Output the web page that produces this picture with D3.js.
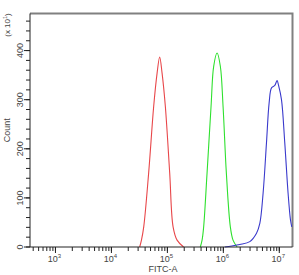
<!DOCTYPE html>
<html lang="en">
<head>
    <meta charset="UTF-8">
    <title>FITC-A histogram</title>
    <script src="https://d3js.org/d3.v7.min.js"></script>
    <style>
        body { margin: 0; background: #fff; }
        text { font-family: "Liberation Sans", Arial, sans-serif; fill: #444; }
    </style>
</head>
<body>
    <div id="chart"></div>
    <script>

        // FITC-A intensity vs count (x 10^1) for the three histograms
        const redX = [32000, 34400, 37800, 46300, 56900, 65500, 72800, 80400, 92000, 110000, 126500, 149000, 195000];
        const redY = [0, 14, 41, 151, 286, 354, 387, 354, 286, 151, 41, 14, 0];

        const greenX = [388000, 417000, 445000, 512000, 603000, 672000, 773000, 884000, 989000, 1132000, 1334000, 1489000, 1758000];
        const greenY = [0, 14, 41, 151, 286, 368, 395, 368, 286, 151, 41, 14, 0];

        const blueX = [1064000, 1413000, 1972000, 2972000, 3917000, 4487000, 5140000, 5902000, 6577000, 7261000, 8318000, 9141000, 9660000, 10940000, 12530000, 14350000, 15850000, 16710000];
        const blueY = [0, 2, 5, 11, 28, 48, 110, 212, 293, 324, 329, 339, 330, 300, 212, 110, 55, 41];

        const yTicks = [0, 100, 200, 300, 400];
        const xDecades = [3, 4, 5, 6, 7];

        const W = 299, H = 275;
        const margin = { top: 13.5, right: 6.5, bottom: 28, left: 30 };
        const width = W - margin.left - margin.right;
        const height = H - margin.top - margin.bottom;

        const svg = d3.select("#chart")
            .append("svg")
            .attr("width", W)
            .attr("height", H);

        const g = svg.append("g")
            .attr("transform", `translate(${margin.left}, ${margin.top})`);

        const x = d3.scaleLog()
            .domain([Math.pow(10, 2.545), Math.pow(10, 7.236)])
            .range([0, width]);

        const y = d3.scaleLinear()
            .domain([0, 475.5])
            .range([height, 0]);

        // frame (top + right in gray)
        g.append("path")
            .attr("d", `M0,0H${width}V${height}`)
            .attr("fill", "none")
            .attr("stroke", "#808080")
            .attr("stroke-width", 2);

        // curves
        svg.append("clipPath").attr("id", "clip")
            .append("rect").attr("width", width).attr("height", height + 1);

        const line = d3.line()
            .x(d => x(d[0]))
            .y(d => y(d[1]))
            .curve(d3.curveCatmullRom.alpha(0.5));

        const series = [
            { xs: redX, ys: redY, color: "#e8474a" },
            { xs: greenX, ys: greenY, color: "#2ee02e" },
            { xs: blueX, ys: blueY, color: "#3a3acc" }
        ];

        g.append("g").attr("clip-path", "url(#clip)")
            .selectAll("path")
            .data(series)
            .join("path")
            .attr("d", s => line(s.xs.map((v, i) => [v, s.ys[i]])))
            .attr("fill", "none")
            .attr("stroke", s => s.color)
            .attr("stroke-width", 1.1);

        // y axis
        const yMinor = d3.range(0, 461, 20);
        const yAxis = g.append("g");
        yAxis.append("line")
            .attr("x1", 0).attr("x2", 0)
            .attr("y1", 0).attr("y2", height)
            .attr("stroke", "#222");
        yAxis.selectAll(".ymin")
            .data(yMinor)
            .join("line")
            .attr("x1", -4).attr("x2", 0)
            .attr("y1", d => y(d)).attr("y2", d => y(d))
            .attr("stroke", "#222");
        yAxis.selectAll(".ymaj")
            .data(yTicks)
            .join("line")
            .attr("x1", -6).attr("x2", 0)
            .attr("y1", d => y(d)).attr("y2", d => y(d))
            .attr("stroke", "#222");
        yAxis.selectAll(".ylab")
            .data(yTicks)
            .join("text")
            .attr("transform", d => `translate(-7, ${y(d)}) rotate(-90)`)
            .attr("text-anchor", "middle")
            .attr("font-size", "9px")
            .text(d => d);

        // x axis
        const xMinor = [];
        for (let k = 2; k <= 7; k++) {
            for (let m = 1; m <= 9; m++) {
                const v = m * Math.pow(10, k);
                if (v >= x.domain()[0] && v <= x.domain()[1]) xMinor.push(v);
            }
        }
        const xAxis = g.append("g").attr("transform", `translate(0, ${height})`);
        xAxis.append("line")
            .attr("x1", 0).attr("x2", width)
            .attr("stroke", "#222");
        xAxis.selectAll(".xmin")
            .data(xMinor)
            .join("line")
            .attr("x1", d => x(d)).attr("x2", d => x(d))
            .attr("y1", 0).attr("y2", 4)
            .attr("stroke", "#222");
        xAxis.selectAll(".xmaj")
            .data(xDecades)
            .join("line")
            .attr("x1", d => x(Math.pow(10, d))).attr("x2", d => x(Math.pow(10, d)))
            .attr("y1", 0).attr("y2", 6)
            .attr("stroke", "#222");
        const xl = xAxis.selectAll(".xlab")
            .data(xDecades)
            .join("text")
            .attr("x", d => x(Math.pow(10, d)) - 1)
            .attr("y", 15)
            .attr("text-anchor", "middle")
            .attr("font-size", "9px");
        xl.append("tspan").text("10");
        xl.append("tspan").attr("dy", -4).attr("font-size", "6px").text(d => d);

        // axis titles
        svg.append("text")
            .attr("x", 163).attr("y", 272)
            .attr("text-anchor", "middle")
            .attr("font-size", "9px")
            .text("FITC-A");

        svg.append("text")
            .attr("transform", `translate(10, ${margin.top + height / 2}) rotate(-90)`)
            .attr("text-anchor", "middle")
            .attr("font-size", "9px")
            .text("Count");

        const mult = svg.append("text")
            .attr("transform", "translate(10, 25) rotate(-90)")
            .attr("text-anchor", "middle")
            .attr("font-size", "8px");
        mult.append("tspan").text("(x 10");
        mult.append("tspan").attr("dy", -3).attr("font-size", "5.5px").text("1");
        mult.append("tspan").attr("dy", 3).text(")");

    </script>
</body>
</html>
